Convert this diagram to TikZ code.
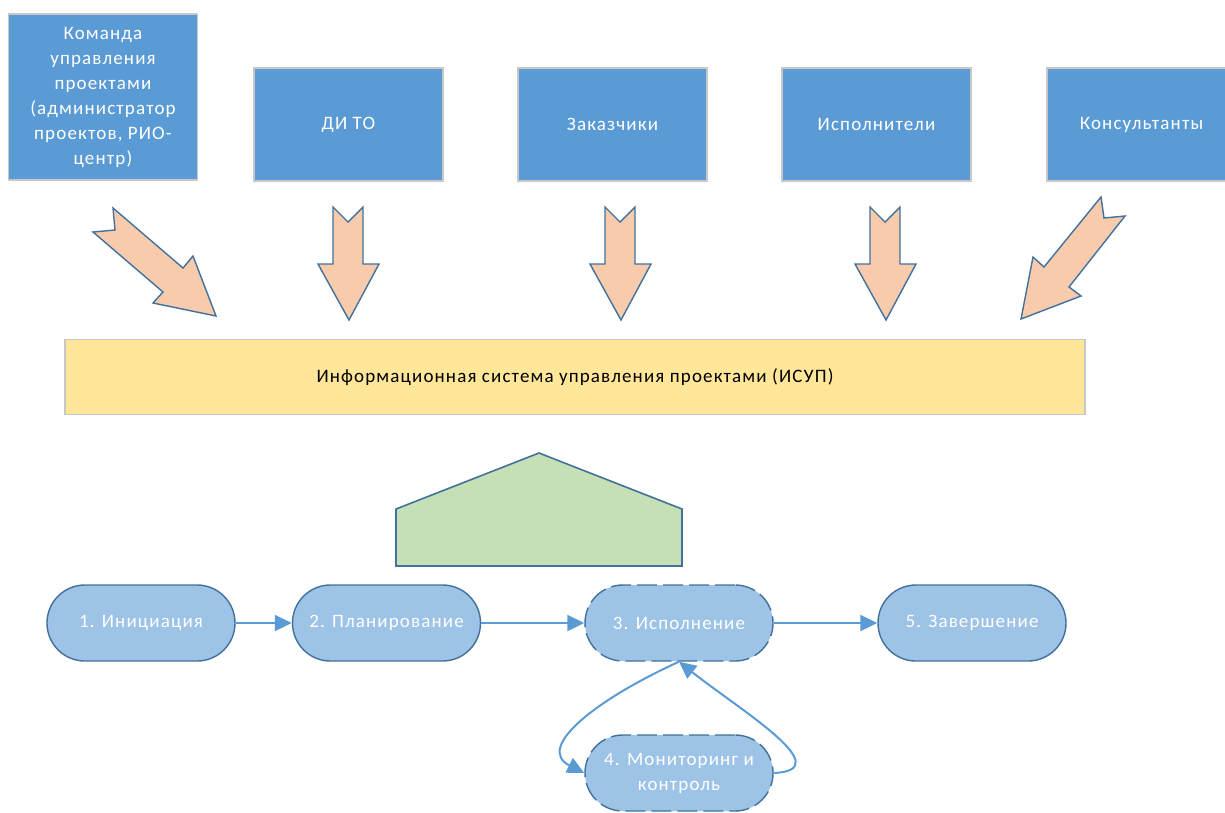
\documentclass[tikz,border=0pt]{standalone}
\usepackage{fontspec}
\setmainfont{Carlito}[LetterSpace=6]
\usetikzlibrary{arrows.meta}

\definecolor{boxblue}{HTML}{5B9BD5}
\definecolor{boxedge}{HTML}{C8C8C8}
\definecolor{pillblue}{HTML}{9DC3E6}
\definecolor{darkedge}{HTML}{41719C}
\definecolor{peach}{HTML}{F8CBAD}
\definecolor{barfill}{HTML}{FFE699}
\definecolor{roofgreen}{HTML}{C5E0B4}
\definecolor{flowblue}{HTML}{5B9BD5}

\tikzset{
  txt/.style={font=\fontsize{19}{25}\selectfont},
  topbox/.style={txt, rectangle, fill=boxblue, draw=boxedge, line width=1.2pt,
    minimum width=189pt, minimum height=113pt, text=white, align=center, inner sep=0pt},
  infobar/.style={txt, rectangle, fill=barfill, draw=boxedge, line width=1.2pt,
    minimum width=1020pt, minimum height=75pt, text=black, inner sep=0pt},
  pill/.style={txt, rectangle, rounded corners=37.9pt, fill=pillblue, draw=darkedge,
    line width=1.4pt, minimum width=188pt, minimum height=76pt, text=white,
    align=center, inner sep=0pt},
  dashedpill/.style={pill, dash pattern=on 20pt off 6pt},
  fatarrow/.style={fill=peach, draw=darkedge, line width=1.4pt, line join=miter},
  roof/.style={fill=roofgreen, draw=darkedge, line width=1.6pt},
  flow/.style={draw=flowblue, line width=2pt,
    -{Triangle[length=17pt,width=16pt]}}
}

\begin{document}
\begin{tikzpicture}[x=1pt,y=-1pt]
  \useasboundingbox (0,0) rectangle (1225,812);

  % stakeholder boxes
  \node[topbox, minimum height=166pt] (team) at (103,97)
    {Команда\\управления\\проектами\\(администратор\\проектов, РИО-\\центр)};
  \node[topbox] (dito) at (348.5,124.5) {ДИ ТО};
  \node[topbox] (cust) at (612.5,124.5) {Заказчики};
  \node[topbox] (exec) at (876.5,124.5) {Исполнители};
  \node[topbox] (cons) at (1141.5,124.5) {Консультанты};

  % notched block arrows towards the information system
  \draw[fatarrow] (113,208) -- (183,268) -- (193,256) -- (216,316) -- (153,303)
    -- (163,292) -- (93,232) -- (115,230) -- cycle;
  \foreach \c in {348,620,885} {
    \draw[fatarrow] (\c-15,207) -- (\c,222) -- (\c+15,207) -- (\c+15,264)
      -- (\c+31,264) -- (\c+1,320) -- (\c-30,264) -- (\c-15,264) -- cycle;
  }
  \draw[fatarrow] (1101,197) -- (1104,218) -- (1125,216) -- (1069,287) -- (1081,296)
    -- (1021,319) -- (1033,257) -- (1044,267) -- cycle;

  % information system bar
  \node[infobar] (isup) at (575,377)
    {Информационная система управления проектами (ИСУП)};

  % pentagon
  \draw[roof] (396,566) -- (396,509) -- (539,453) -- (682,509) -- (682,566) -- cycle;

  % project phases
  \node[pill] (p1) at (141,623) {1. Инициация};
  \node[pill] (p2) at (386.5,623) {2. Планирование};
  \node[dashedpill] (p3) at (679,623) {3. Исполнение};
  \node[pill] (p5) at (972,623) {5. Завершение};
  \node[dashedpill] (p4) at (679,773) {4. Мониторинг и\\контроль};

  \draw[flow] (p1.east) -- (p2.west);
  \draw[flow] (p2.east) -- (p3.west);
  \draw[flow] (p3.east) -- (p5.west);
  \draw[flow] (p3.south) .. controls (595,700) and (535,748) .. (p4.west);
  \draw[flow] (p4.east) .. controls (840,770) and (740,710) .. (p3.south);
\end{tikzpicture}
\end{document}
